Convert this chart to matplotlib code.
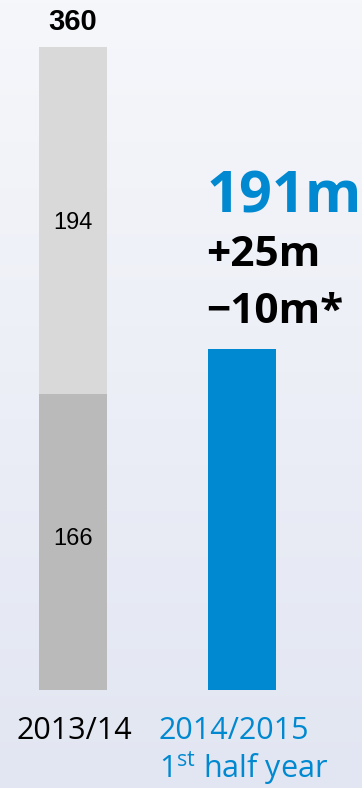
import numpy as np
import matplotlib
matplotlib.use("Agg")
import matplotlib.pyplot as plt
from matplotlib.colors import LinearSegmentedColormap

# Data
periods = ["2013/14", "2014/2015"]
lower_part = [166, 191]
upper_part = [194, 0]
total_prev = 360
headline = "191m"
change_lines = ["+25m", "\u221210m*"]

GRAY_LIGHT = "#D9D9D9"
GRAY_DARK = "#BABABA"
BLUE = "#0089D0"

W, H = 362, 788
fig = plt.figure(figsize=(W / 100, H / 100), dpi=100)

# Soft vertical gradient background
bg = fig.add_axes([0, 0, 1, 1], zorder=0)
grad = np.linspace(0, 1, 256).reshape(-1, 1)
cmap = LinearSegmentedColormap.from_list("bg", ["#F6F7FB", "#E2E6F2"])
bg.imshow(grad, aspect="auto", cmap=cmap, extent=[0, 1, 0, 1], origin="upper")
bg.set_axis_off()

ax = fig.add_axes([0, 0, 1, 1], zorder=1)
ax.patch.set_alpha(0)

# Scale: baseline at pixel 690, value 360 at pixel 47
px_per_unit = (690 - 47) / total_prev
ax.set_ylim(-(H - 690) / px_per_unit, total_prev + 47 / px_per_unit)
spacing = 169.0
ax.set_xlim(-73 / spacing, 1 + (W - 242) / spacing)
ax.set_axis_off()

x = np.arange(len(periods))
bw = 68 / spacing

ax.bar(x[0], lower_part[0], width=bw, color=GRAY_DARK)
ax.bar(x[0], upper_part[0], bottom=lower_part[0], width=bw, color=GRAY_LIGHT)
ax.bar(x[1], lower_part[1], width=bw, color=BLUE)

# Segment labels
ax.text(x[0], lower_part[0] / 2 + 1.5, str(lower_part[0]), ha="center", va="center",
        fontsize=17, family="Liberation Sans", color="black")
ax.text(x[0], lower_part[0] + upper_part[0] / 2 - 1.5, str(upper_part[0]), ha="center",
        va="center", fontsize=17, family="Liberation Sans", color="black")
ax.text(x[0], total_prev + 14, str(total_prev), ha="center", va="center",
        fontsize=21, family="Liberation Sans", weight="bold", color="black")

# Headline figures above the blue bar
left = x[1] - bw / 2 - 0.01
ax.text(left, lower_part[1] + 85, headline, ha="left", va="center",
        fontsize=41.5, family="Open Sans", weight="bold", color=BLUE)
ax.text(left, lower_part[1] + 52, change_lines[0], ha="left", va="center",
        fontsize=30.5, family="Open Sans", weight="bold", color="black")
ax.text(left, lower_part[1] + 20.5, change_lines[1], ha="left", va="center",
        fontsize=30.5, family="Open Sans", weight="bold", color="black")

# Category labels
ax.text(x[0] + 0.01, -23, periods[0], ha="center", va="center",
        fontsize=22, family="Open Sans", color="black")
ax.text(-0.432 + 159 / spacing, -23, periods[1], ha="left", va="center",
        fontsize=22, family="Open Sans", color=BLUE)
ax.text(-0.432 + 159 / spacing, -44, r"1$^{\mathregular{st}}$ half year", ha="left",
        va="center", fontsize=22, family="Open Sans", color=BLUE)

fig.savefig("out.png", dpi=100)
